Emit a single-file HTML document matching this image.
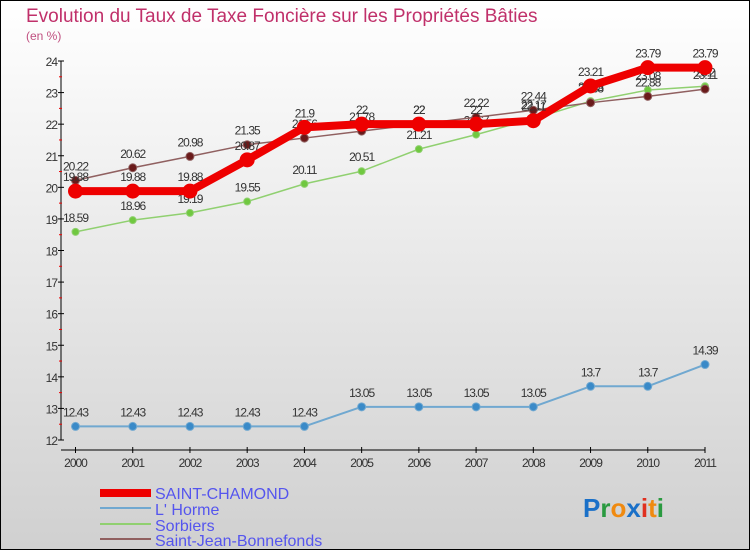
<!DOCTYPE html>
<html><head><meta charset="utf-8"><style>
body{margin:0;width:750px;height:550px;overflow:hidden;font-family:"Liberation Sans",sans-serif}
svg{display:block}
</style></head><body>
<svg id="c" width="750" height="550">
<defs><linearGradient id="bg" x1="0" y1="0" x2="0" y2="1"><stop offset="0" stop-color="#ffffff"/><stop offset="1" stop-color="#d0d0d0"/></linearGradient></defs>
<rect x="0.5" y="0.5" width="749" height="549" fill="url(#bg)" stroke="#000"/>
<text x="26" y="22" font-size="19" fill="#c0306a">Evolution du Taux de Taxe Foncière sur les Propriétés Bâties</text>
<text x="26" y="40" font-size="12" fill="#c05080">(en %)</text>
<g id="axes"></g><g id="series"></g>
<g>
<rect x="100" y="489" width="51" height="8" fill="#e00"/>
<text x="155" y="499" font-size="16" fill="#5555ee">SAINT-CHAMOND</text>
<rect x="100" y="507" width="51" height="2" fill="#70a8d0"/>
<text x="155" y="515" font-size="16" fill="#5555ee">L' Horme</text>
<rect x="100" y="523" width="51" height="2" fill="#90d070"/>
<text x="155" y="531" font-size="16" fill="#5555ee">Sorbiers</text>
<rect x="100" y="538" width="51" height="2" fill="#906060"/>
<text x="155" y="546" font-size="16" fill="#5555ee">Saint-Jean-Bonnefonds</text>
</g>
<text x="583" y="517" font-size="26" font-weight="bold"><tspan fill="#1a70c8">P</tspan><tspan fill="#2a9a40">r</tspan><tspan fill="#f08a10">o</tspan><tspan fill="#1a70c8">x</tspan><tspan fill="#e03020">i</tspan><tspan fill="#f08a10">t</tspan><tspan fill="#2a9a40">i</tspan></text>
</svg>
<script>
const years=[2000,2001,2002,2003,2004,2005,2006,2007,2008,2009,2010,2011];
const yTicks=[12,13,14,15,16,17,18,19,20,21,22,23,24];
const saintChamond=[19.88,19.88,19.88,20.87,21.9,22,22,22,22.11,23.21,23.79,23.79];
const lHorme=[12.43,12.43,12.43,12.43,12.43,13.05,13.05,13.05,13.05,13.7,13.7,14.39];
const sorbiers=[18.59,18.96,19.19,19.55,20.11,20.51,21.21,21.67,22.17,22.73,23.08,23.2];
const saintJean=[20.22,20.62,20.98,21.35,21.56,21.78,22,22.22,22.44,22.68,22.88,23.11];
const NS="http://www.w3.org/2000/svg";
const xs=i=>75.5+i*(705-75.5)/11;
const ys=v=>440-(v-12)*(440-61)/12;
function mk(t,a,p){const e=document.createElementNS(NS,t);for(const k in a)e.setAttribute(k,a[k]);p.appendChild(e);return e;}
const ax=document.getElementById('axes');
let l=mk('line',{x1:61,y1:61,x2:61,y2:440,stroke:'#000'},ax);


l=mk('line',{x1:61,y1:450,x2:705,y2:450,stroke:'#000'},ax);


yTicks.forEach(v=>{
 mk('line',{x1:58,y1:ys(v),x2:64,y2:ys(v),stroke:'#000'},ax);
 if(v<24)mk('line',{x1:59,y1:ys(v+0.5),x2:62,y2:ys(v+0.5),stroke:'#e00'},ax);
 const t=mk('text',{x:57,y:ys(v)+5,'font-size':12,'text-anchor':'end',fill:'#333','letter-spacing':'-1'},ax);
 t.textContent=v;
 
 
});
years.forEach((y,i)=>{
 mk('line',{x1:xs(i),y1:447,x2:xs(i),y2:453,stroke:'#000'},ax);
 const t=mk('text',{x:xs(i),y:467,'font-size':12,'text-anchor':'middle',fill:'#333','letter-spacing':'-1'},ax);
 t.textContent=y;
 
 
});
const sg=document.getElementById('series');
function draw(vals,name,color,w,r,mc){
 const g=mk('g',{},sg);
 
 
 const p=mk('polyline',{points:vals.map((v,i)=>xs(i)+','+ys(v)).join(' '),fill:'none',stroke:color,'stroke-width':w,'stroke-linejoin':'round'},g);
 
 
 vals.forEach((v,i)=>{
  const c=mk('circle',{cx:xs(i),cy:ys(v),r:r,fill:mc,stroke:color,'stroke-width':1},g);
  
  
  const t=mk('text',{x:xs(i),y:ys(v)-10,'font-size':12,'text-anchor':'middle',fill:'#333','letter-spacing':'-1'},g);
  t.textContent=v;
  
  
 });
}
draw(lHorme,'lhorme','#70a8d0',2,4,'#3a8ac8');
draw(sorbiers,'sorbiers','#90d070',1.5,3.5,'#70c840');
draw(saintJean,'saint-jean-bonnefonds','#906060',1.5,4,'#6a1a1a');
draw(saintChamond,'saint-chamond','#e00',8,7,'#e00');
</script>
</body></html>
